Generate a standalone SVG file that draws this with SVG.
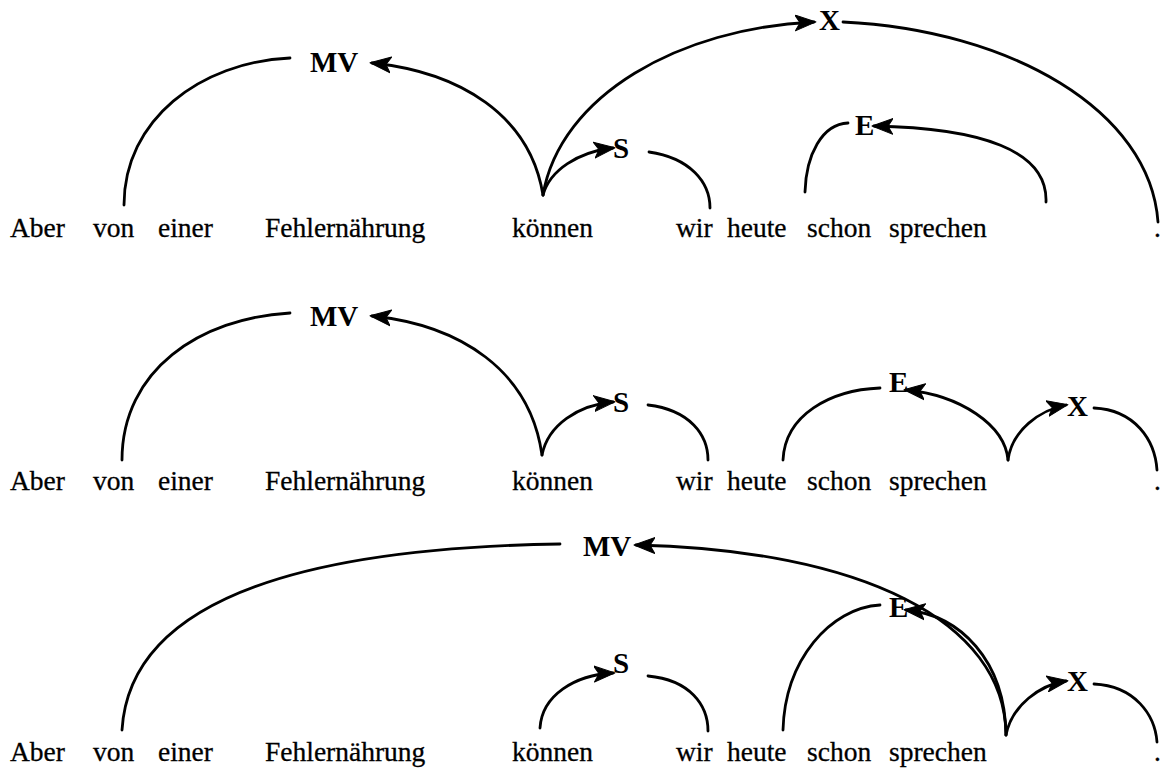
<svg xmlns="http://www.w3.org/2000/svg" width="1160" height="779" viewBox="0 0 1160 779">
<defs>
<marker id="ah" markerUnits="userSpaceOnUse" markerWidth="24" markerHeight="20" refX="19" refY="9" orient="auto">
<path d="M0,1 L21,9 L0,17 L5,9 Z" fill="#000" stroke="#000" stroke-width="1" stroke-linejoin="round"/>
</marker>
<style>
.w{font-family:"Liberation Serif","Times New Roman",serif;font-size:27.5px;fill:#000;stroke:#000;stroke-width:0.3}
.l{font-family:"Liberation Serif","Times New Roman",serif;font-size:29px;font-weight:bold;fill:#000}
.c{fill:none;stroke:#000;stroke-width:2.8;stroke-linecap:round}
.a{marker-end:url(#ah)}
</style>
</defs>
<rect width="1160" height="779" fill="#fff"/>
<g id="row1">
<g id="r1-words">
<text class="w" x="10" y="237">Aber</text>
<text class="w" x="93" y="237">von</text>
<text class="w" x="158" y="237">einer</text>
<text class="w" x="265" y="237">Fehlernährung</text>
<text class="w" x="512" y="237">können</text>
<text class="w" x="676" y="237">wir</text>
<text class="w" x="727" y="237">heute</text>
<text class="w" x="807" y="237">schon</text>
<text class="w" x="889" y="237">sprechen</text>
<text class="w" x="1154" y="237">.</text>
</g>
<g id="r1-MV"><text class="l" x="310" y="72">MV</text></g>
<g id="r1-X"><text class="l" x="819" y="30">X</text></g>
<g id="r1-S"><text class="l" x="613" y="158">S</text></g>
<g id="r1-E"><text class="l" x="855" y="135">E</text></g>
</g>
<g id="row2">
<g id="r2-words">
<text class="w" x="10" y="490">Aber</text>
<text class="w" x="93" y="490">von</text>
<text class="w" x="158" y="490">einer</text>
<text class="w" x="265" y="490">Fehlernährung</text>
<text class="w" x="512" y="490">können</text>
<text class="w" x="676" y="490">wir</text>
<text class="w" x="727" y="490">heute</text>
<text class="w" x="807" y="490">schon</text>
<text class="w" x="889" y="490">sprechen</text>
<text class="w" x="1154" y="490">.</text>
</g>
<g id="r2-MV"><text class="l" x="310" y="326">MV</text></g>
<g id="r2-S"><text class="l" x="613" y="412">S</text></g>
<g id="r2-E"><text class="l" x="889" y="392">E</text></g>
<g id="r2-X"><text class="l" x="1067" y="416">X</text></g>
</g>
<g id="row3">
<g id="r3-words">
<text class="w" x="10" y="761">Aber</text>
<text class="w" x="93" y="761">von</text>
<text class="w" x="158" y="761">einer</text>
<text class="w" x="265" y="761">Fehlernährung</text>
<text class="w" x="512" y="761">können</text>
<text class="w" x="676" y="761">wir</text>
<text class="w" x="727" y="761">heute</text>
<text class="w" x="807" y="761">schon</text>
<text class="w" x="889" y="761">sprechen</text>
<text class="w" x="1154" y="761">.</text>
</g>
<g id="r3-MV"><text class="l" x="583" y="556">MV</text></g>
<g id="r3-E"><text class="l" x="889" y="617">E</text></g>
<g id="r3-S"><text class="l" x="613" y="673">S</text></g>
<g id="r3-X"><text class="l" x="1067" y="691">X</text></g>
</g>
<g id="connectors">
<path class="c" d="M124,205 C124,120 200,62 290,58"/>
<path class="c a" d="M543,195 C530,115 460,72 372,63"/>
<path class="c a" d="M543,195 C560,95 680,28 814,22"/>
<path class="c" d="M843,22 C1010,30 1150,110 1158,222"/>
<path class="c a" d="M543,195 C550,170 578,152 613,148"/>
<path class="c" d="M649,152 C690,158 710,182 710,208"/>
<path class="c" d="M805,192 C806,155 822,124 848,123"/>
<path class="c a" d="M1046,202 C1048,150 980,128 874,126"/>

<path class="c" d="M122,460 C122,370 200,318 290,313"/>
<path class="c a" d="M542,455 C530,370 460,325 372,316"/>
<path class="c a" d="M542,455 C548,425 578,405 613,402"/>
<path class="c" d="M648,405 C690,410 708,435 708,460"/>
<path class="c" d="M783,460 C785,415 830,390 880,388"/>
<path class="c a" d="M1008,460 C1005,425 960,395 906,390"/>
<path class="c a" d="M1008,460 C1012,430 1040,410 1066,405"/>
<path class="c" d="M1094,408 C1135,410 1155,440 1157,470"/>

<path class="c" d="M122,730 C130,600 300,548 560,544"/>
<path class="c a" d="M1006,735 C1005,620 860,550 636,545"/>
<path class="c a" d="M1006,735 C1005,660 960,615 906,610"/>
<path class="c" d="M783,730 C785,660 830,608 880,605"/>
<path class="c a" d="M1006,735 C1012,705 1040,685 1066,681"/>
<path class="c" d="M1094,684 C1135,686 1155,715 1157,742"/>
<path class="c a" d="M540,728 C542,695 575,675 613,673"/>
<path class="c" d="M648,676 C690,680 708,705 708,731"/>
</g>
</svg>
